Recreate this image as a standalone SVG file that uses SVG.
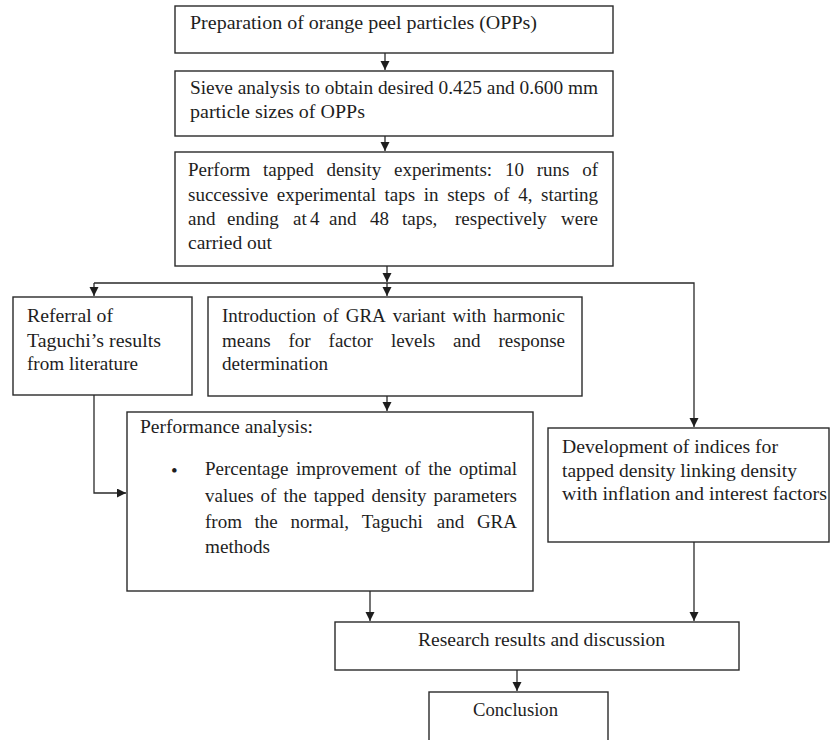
<svg xmlns="http://www.w3.org/2000/svg" width="831" height="740" viewBox="0 0 831 740">
<style>
.box{fill:#fff;stroke:#2a2a2a;stroke-width:1.4}
.t{font-family:"Liberation Serif","Times New Roman","DejaVu Serif",serif;font-size:19px;fill:#1e1e1e}
.c{fill:none;stroke:#2a2a2a;stroke-width:1.3}
</style>
<defs>
<marker id="ah" markerUnits="userSpaceOnUse" markerWidth="10" markerHeight="10" refX="9" refY="4.5" orient="auto">
<path d="M0,0 L9,4.5 L0,9 Z" fill="#1e1e1e"/>
</marker>
</defs>
<rect width="831" height="740" fill="#fff"/>
<g id="connectors">
<line class="c" x1="385" y1="53" x2="385" y2="70" marker-end="url(#ah)"/>
<line class="c" x1="385" y1="136" x2="385" y2="151" marker-end="url(#ah)"/>
<line class="c" x1="387" y1="266" x2="387" y2="282" marker-end="url(#ah)"/>
<line class="c" x1="387" y1="283" x2="387" y2="296" marker-end="url(#ah)"/>
<polyline class="c" points="94,283 694,283 694,427" marker-end="url(#ah)"/>
<line class="c" x1="94" y1="283" x2="94" y2="296" marker-end="url(#ah)"/>
<polyline class="c" points="94,395 94,493 126,493" marker-end="url(#ah)"/>
<line class="c" x1="387" y1="396" x2="387" y2="411" marker-end="url(#ah)"/>
<line class="c" x1="370" y1="591" x2="370" y2="621" marker-end="url(#ah)"/>
<line class="c" x1="694" y1="542" x2="694" y2="621" marker-end="url(#ah)"/>
<line class="c" x1="517" y1="670" x2="517" y2="691" marker-end="url(#ah)"/>
</g>
<g id="n1">
<rect class="box" x="175" y="6" width="438" height="47"/>
<text class="t" x="190" y="29" textLength="347" lengthAdjust="spacingAndGlyphs">Preparation of orange peel particles (OPPs)</text>
</g>
<g id="n2">
<rect class="box" x="175" y="71" width="438" height="65"/>
<text class="t" x="190" y="94" textLength="408" lengthAdjust="spacingAndGlyphs">Sieve analysis to obtain desired 0.425 and 0.600 mm</text>
<text class="t" x="190" y="118" textLength="175" lengthAdjust="spacingAndGlyphs">particle sizes of OPPs</text>
</g>
<g id="n3">
<rect class="box" x="175" y="152" width="438" height="114"/>
<text class="t" y="176"><tspan x="188">Perform</tspan><tspan x="263">tapped</tspan><tspan x="326.4">density</tspan><tspan x="394">experiments:</tspan><tspan x="504.9">10</tspan><tspan x="536.7">runs</tspan><tspan x="582.2">of</tspan></text>
<text class="t" y="201"><tspan x="188">successive</tspan><tspan x="276.8">experimental</tspan><tspan x="384.6">taps</tspan><tspan x="423.8">in</tspan><tspan x="447.2">steps</tspan><tspan x="493.8">of</tspan><tspan x="518.2">4,</tspan><tspan x="541">starting</tspan></text>
<text class="t" y="225"><tspan x="188">and</tspan><tspan x="227">ending</tspan><tspan x="293">at</tspan><tspan x="310">4</tspan><tspan x="329">and</tspan><tspan x="370">48</tspan><tspan x="402">taps,</tspan><tspan x="455">respectively</tspan><tspan x="561">were</tspan></text>
<text class="t" x="188" y="249" textLength="84" lengthAdjust="spacingAndGlyphs">carried out</text>
</g>
<g id="n4">
<rect class="box" x="13" y="297" width="179" height="98"/>
<text class="t" x="27" y="322" textLength="86" lengthAdjust="spacingAndGlyphs">Referral of</text>
<text class="t" x="27" y="347" textLength="134" lengthAdjust="spacingAndGlyphs">Taguchi’s results</text>
<text class="t" x="27" y="370" textLength="111" lengthAdjust="spacingAndGlyphs">from literature</text>
</g>
<g id="n5">
<rect class="box" x="208" y="297" width="374" height="99"/>
<text class="t" y="322"><tspan x="222">Introduction</tspan><tspan x="322.9">of</tspan><tspan x="345.7">GRA</tspan><tspan x="392.8">variant</tspan><tspan x="452.5">with</tspan><tspan x="493.3">harmonic</tspan></text>
<text class="t" y="347"><tspan x="222">means</tspan><tspan x="288.5">for</tspan><tspan x="328.6">factor</tspan><tspan x="390.9">levels</tspan><tspan x="453.1">and</tspan><tspan x="498.5">response</tspan></text>
<text class="t" x="222" y="370" textLength="106" lengthAdjust="spacingAndGlyphs">determination</text>
</g>
<g id="n6">
<rect class="box" x="127" y="412" width="406" height="179"/>
<text class="t" x="140" y="433" textLength="173" lengthAdjust="spacingAndGlyphs">Performance analysis:</text>
<text class="t" x="171" y="477" font-size="28">•</text>
<text class="t" y="475"><tspan x="205">Percentage</tspan><tspan x="295.9">improvement</tspan><tspan x="404.8">of</tspan><tspan x="428.2">the</tspan><tspan x="458.9">optimal</tspan></text>
<text class="t" y="502"><tspan x="205">values</tspan><tspan x="260.6">of</tspan><tspan x="283.5">the</tspan><tspan x="313.8">tapped</tspan><tspan x="371.6">density</tspan><tspan x="433.6">parameters</tspan></text>
<text class="t" y="528"><tspan x="205">from</tspan><tspan x="254.6">the</tspan><tspan x="290.5">normal,</tspan><tspan x="361.8">Taguchi</tspan><tspan x="436.8">and</tspan><tspan x="476.9">GRA</tspan></text>
<text class="t" x="205" y="553" textLength="65" lengthAdjust="spacingAndGlyphs">methods</text>
</g>
<g id="n7">
<rect class="box" x="548" y="428" width="281" height="114"/>
<text class="t" x="562" y="453" textLength="216" lengthAdjust="spacingAndGlyphs">Development of indices for</text>
<text class="t" x="562" y="477" textLength="235" lengthAdjust="spacingAndGlyphs">tapped density linking  density</text>
<text class="t" x="562" y="500" textLength="265" lengthAdjust="spacingAndGlyphs">with inflation  and interest factors</text>
</g>
<g id="n8">
<rect class="box" x="335" y="622" width="404" height="48"/>
<text class="t" x="418" y="646" textLength="247" lengthAdjust="spacingAndGlyphs">Research results and discussion</text>
</g>
<g id="n9">
<rect class="box" x="429" y="692" width="179" height="60"/>
<text class="t" x="473" y="716" textLength="85" lengthAdjust="spacingAndGlyphs">Conclusion</text>
</g>
</svg>
